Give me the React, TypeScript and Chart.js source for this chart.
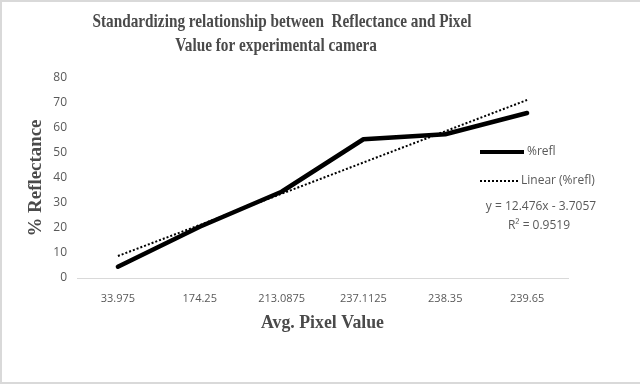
import React, { useEffect, useRef } from "react";
import { Chart, registerables } from "chart.js";

Chart.register(...registerables);

const categories = ["33.975", "174.25", "213.0875", "237.1125", "238.35", "239.65"];
const reflValues = [4.5, 20.5, 34.5, 55.5, 57.5, 66];
const trendValues = [8.8, 21.2, 33.7, 46.2, 58.7, 71.2];
const yTicks = [0, 10, 20, 30, 40, 50, 60, 70, 80];
const titleLines = ["Standardizing relationship between  Reflectance and Pixel", "Value for experimental camera"];
const equationLines = ["y = 12.476x - 3.7057", "R² = 0.9519"];

const SERIF = '"Liberation Serif", "Times New Roman", serif';
const SANS = '"Open Sans", "Liberation Sans", sans-serif';

function fitText(ctx: CanvasRenderingContext2D, text: string, x: number, y: number, scaleX: number) {
  ctx.save();
  ctx.translate(x, y);
  ctx.scale(scaleX, 1);
  ctx.fillText(text, 0, 0);
  ctx.restore();
}

const decorPlugin = {
  id: "decor",
  beforeDraw(chart: any) {
    const ctx = chart.ctx as CanvasRenderingContext2D;
    ctx.save();
    ctx.fillStyle = "#ffffff";
    ctx.fillRect(0, 0, chart.width, chart.height);
    ctx.strokeStyle = "#d9d9d9";
    ctx.lineWidth = 2;
    ctx.strokeRect(1, 1, chart.width + 10, chart.height - 3);
    ctx.restore();
  },
  afterDraw(chart: any) {
    const ctx = chart.ctx as CanvasRenderingContext2D;
    const area = chart.chartArea;
    ctx.save();
    // Title
    ctx.fillStyle = "#4a4a4a";
    ctx.font = `bold 19px ${SERIF}`;
    ctx.textBaseline = "middle";
    ctx.textAlign = "left";
    const w1 = ctx.measureText(titleLines[0]).width;
    const sx = 379 / w1;
    const cx = 282;
    fitText(ctx, titleLines[0], cx - (w1 * sx) / 2, 22, sx);
    const w2 = ctx.measureText(titleLines[1]).width;
    fitText(ctx, titleLines[1], cx - 6 - (w2 * sx) / 2, 46, sx);

    // Y axis title
    ctx.font = `bold 19px ${SERIF}`;
    const yt = "% Reflectance";
    const wy = ctx.measureText(yt).width;
    const sy = 117 / wy;
    ctx.save();
    ctx.translate(36, (area.top + area.bottom) / 2);
    ctx.rotate(-Math.PI / 2);
    ctx.scale(sy, 1);
    ctx.fillText(yt, -wy / 2, 0);
    ctx.restore();

    // X axis title
    const xt = "Avg. Pixel Value";
    const wx = ctx.measureText(xt).width;
    const sxx = 123 / wx;
    fitText(ctx, xt, (area.left + area.right) / 2 - (wx * sxx) / 2, 323, sxx);

    // Legend
    ctx.strokeStyle = "#000000";
    ctx.lineWidth = 4;
    ctx.beginPath();
    ctx.moveTo(480, 152);
    ctx.lineTo(524, 152);
    ctx.stroke();
    ctx.lineWidth = 2;
    ctx.setLineDash([2, 2]);
    ctx.beginPath();
    ctx.moveTo(480, 181);
    ctx.lineTo(518, 181);
    ctx.stroke();
    ctx.setLineDash([]);

    ctx.fillStyle = "#595959";
    ctx.font = `12px ${SANS}`;
    ctx.textAlign = "left";
    ctx.fillText("%refl", 527, 152);
    ctx.fillText("Linear (%refl)", 521, 181);
    ctx.textAlign = "center";
    ctx.fillText(equationLines[0], 541, 207);
    ctx.fillText(equationLines[1], 539, 226);
    ctx.restore();
  },
};

export default function App() {
  const ref = useRef<HTMLCanvasElement | null>(null);
  useEffect(() => {
    if (!ref.current) return;
    const chart = new Chart(ref.current, {
      type: "line",
      data: {
        labels: categories,
        datasets: [
          {
            label: "%refl",
            data: reflValues,
            borderColor: "#000000",
            borderWidth: 4.5,
            pointRadius: 0,
            tension: 0,
            borderCapStyle: "round",
            borderJoinStyle: "round",
          },
          {
            label: "Linear (%refl)",
            data: trendValues,
            borderColor: "#000000",
            borderWidth: 2,
            borderDash: [2, 2],
            pointRadius: 0,
            tension: 0,
          },
        ],
      },
      options: {
        responsive: false,
        animation: false,
        devicePixelRatio: 1,
        layout: { padding: { left: 0, right: 72, top: 78, bottom: 0 } },
        plugins: {
          legend: { display: false },
          title: { display: false },
          tooltip: { enabled: false },
        },
        scales: {
          x: {
            type: "category",
            offset: true,
            grid: { display: false, drawTicks: false },
            border: { display: true, color: "#d9d9d9", width: 1 },
            ticks: {
              color: "#595959",
              font: { family: SANS, size: 11 },
              padding: 14,
              maxRotation: 0,
              autoSkip: false,
            },
            afterFit(scale: any) {
              scale.height = 385 - 278;
            },
          },
          y: {
            min: 0,
            max: 80,
            afterBuildTicks(scale: any) {
              scale.ticks = yTicks.map((v) => ({ value: v }));
            },
            grid: { display: false, drawTicks: false },
            border: { display: false },
            ticks: {
              color: "#595959",
              font: { family: SANS, size: 12 },
              padding: 10,
            },
            afterFit(scale: any) {
              scale.width = 77;
            },
          },
        },
      },
      plugins: [decorPlugin],
    } as any);
    return () => chart.destroy();
  }, []);
  return (
    <div style={{ position: "absolute", left: 0, top: 0, width: 640, height: 385 }}>
      <canvas ref={ref} width={640} height={385} style={{ display: "block" }} />
    </div>
  );
}
